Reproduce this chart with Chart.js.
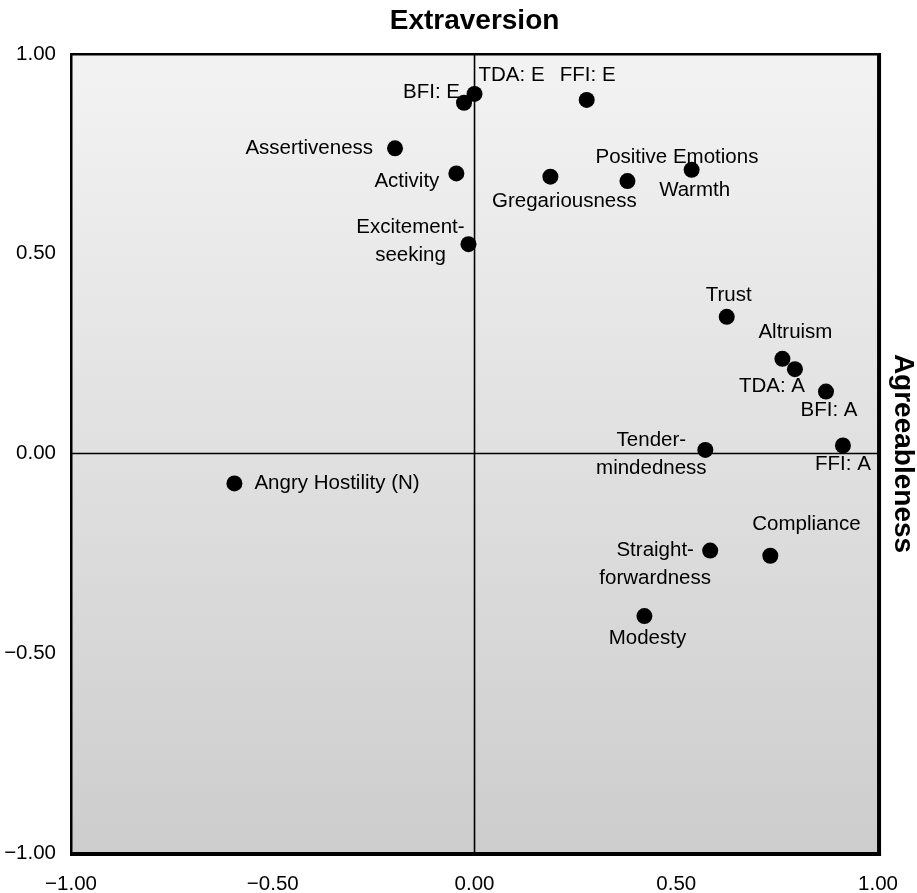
<!DOCTYPE html>
<html><head><meta charset="utf-8">
<script src="https://cdn.jsdelivr.net/npm/chart.js@4"></script>
<style>html,body{margin:0;padding:0;background:#fff}#wrap{width:917px;height:893px;position:relative}</style>
</head><body><div id="wrap"><canvas id="c" width="917" height="893"></canvas></div>
<script>
const pointNames = ["BFI: E","TDA: E","FFI: E","Assertiveness","Activity","Excitement-\nseeking","Gregariousness","Positive Emotions","Warmth","Trust","Altruism","TDA: A","BFI: A","FFI: A","Tender-\nmindedness","Angry Hostility (N)","Straight-\nforwardness","Compliance","Modesty"];
const xValues = [-0.026, 0.00, 0.278, -0.197, -0.045, -0.015, 0.188, 0.379, 0.538, 0.625, 0.763, 0.794, 0.871, 0.913, 0.572, -0.595, 0.584, 0.733, 0.421];
const yValues = [0.878, 0.90, 0.885, 0.764, 0.701, 0.524, 0.693, 0.682, 0.710, 0.342, 0.237, 0.211, 0.155, 0.020, 0.009, -0.075, -0.243, -0.256, -0.407];
const xTicks = [-1, -0.5, 0, 0.5, 1];
const yTicks = [-1, -0.5, 0, 0.5, 1];
const chartTitle = "Extraversion";
const sideTitle = "Agreeableness";

// label placement relative to each dot (pixels) – layout only
const labelPlacement = [
  {dx:-4, dy:-10, align:'right'},
  {dx:4, dy:-19, align:'left'},
  {dx:1, dy:-25, align:'center'},
  {dx:-22, dy:0, align:'right'},
  {dx:-17, dy:8, align:'right'},
  {dx:-58, dy:-17, align:'center'},
  {dx:14, dy:25, align:'center'},
  {dx:-32, dy:-24, align:'left'},
  {dx:3, dy:20, align:'center'},
  {dx:2, dy:-22, align:'center'},
  {dx:13, dy:-26, align:'center'},
  {dx:-23, dy:17, align:'center'},
  {dx:3, dy:19, align:'center'},
  {dx:0, dy:19, align:'center'},
  {dx:-54, dy:-10, align:'center'},
  {dx:20, dy:0, align:'left'},
  {dx:-55, dy:0, align:'center'},
  {dx:-18, dy:-31, align:'left'},
  {dx:3, dy:22, align:'center'}
];

const FAMILY = '"Liberation Sans", Arial, Helvetica, sans-serif';
const fmt = v => (v < 0 ? '\u2212' : '') + Math.abs(v).toFixed(2);

const bgPlugin = {
  id:'bg',
  beforeDatasetsDraw(chart){
    const {ctx, chartArea:a, scales} = chart;
    ctx.save();
    const g = ctx.createLinearGradient(0, a.top, 0, a.bottom);
    g.addColorStop(0, '#f3f3f3');
    g.addColorStop(0.45, '#e2e2e2');
    g.addColorStop(1, '#cdcdcd');
    ctx.fillStyle = g;
    ctx.fillRect(a.left, a.top, a.right - a.left, a.bottom - a.top);
    // zero lines
    ctx.strokeStyle = '#000';
    ctx.lineWidth = 1.6;
    const x0 = scales.x.getPixelForValue(0);
    const y0 = scales.y.getPixelForValue(0);
    ctx.beginPath();
    ctx.moveTo(x0, a.top); ctx.lineTo(x0, a.bottom);
    ctx.moveTo(a.left, y0); ctx.lineTo(a.right, y0);
    ctx.stroke();
    ctx.restore();
  }
};

const labelPlugin = {
  id:'labels',
  afterDatasetsDraw(chart){
    const {ctx, scales} = chart;
    ctx.save();
    ctx.fillStyle = '#000';
    ctx.font = '20.5px ' + FAMILY;
    ctx.textBaseline = 'middle';
    pointNames.forEach((name, i) => {
      const px = scales.x.getPixelForValue(xValues[i]);
      const py = scales.y.getPixelForValue(yValues[i]);
      const p = labelPlacement[i];
      ctx.textAlign = p.align;
      name.split('\n').forEach((line, k) => {
        ctx.fillText(line, px + p.dx, py + p.dy + k * 28);
      });
    });
    ctx.restore();
  },
  afterDraw(chart){
    const {ctx, chartArea:a} = chart;
    ctx.save();
    // frame
    ctx.fillStyle = '#000';
    ctx.fillRect(a.left - 1, a.top - 1, a.right - a.left + 2, 2.5);
    ctx.fillRect(a.left - 1, a.top - 1, 2.5, a.bottom - a.top + 2);
    ctx.fillRect(a.right - 1, a.top - 1, 4, a.bottom - a.top + 4);
    ctx.fillRect(a.left - 1, a.bottom - 1, a.right - a.left + 4, 4);
    // titles
    ctx.font = 'bold 28px ' + FAMILY;
    ctx.textAlign = 'center';
    ctx.textBaseline = 'middle';
    ctx.fillText(chartTitle, (a.left + a.right) / 2, 21);
    ctx.translate(903, (a.top + a.bottom) / 2);
    ctx.rotate(Math.PI / 2);
    ctx.fillText(sideTitle, 0, 0);
    ctx.restore();
  }
};

new Chart(document.getElementById('c'), {
  type:'scatter',
  data:{datasets:[{
    data: xValues.map((x, i) => ({x, y: yValues[i]})),
    backgroundColor:'#000', borderColor:'#000',
    pointRadius:8, pointHoverRadius:8, borderWidth:0
  }]},
  options:{
    responsive:false, animation:false, events:[],
    layout:{padding:{top:54, right:37, left:0, bottom:0}},
    plugins:{legend:{display:false}, tooltip:{enabled:false}, title:{display:false}},
    scales:{
      x:{
        type:'linear', min:-1, max:1,
        afterBuildTicks: s => { s.ticks = xTicks.map(v => ({value:v})); },
        afterFit: s => { s.height = 40; },
        grid:{display:false, drawTicks:false}, border:{display:false},
        ticks:{color:'#000', font:{family:FAMILY, size:20.5}, padding:19, maxRotation:0, autoSkip:false, callback: v => fmt(v)}
      },
      y:{
        type:'linear', min:-1, max:1,
        afterBuildTicks: s => { s.ticks = yTicks.map(v => ({value:v})); },
        afterFit: s => { s.width = 71; },
        grid:{display:false, drawTicks:false}, border:{display:false},
        ticks:{color:'#000', font:{family:FAMILY, size:20.5}, padding:15, autoSkip:false, callback: v => fmt(v)}
      }
    }
  },
  plugins:[bgPlugin, labelPlugin]
});
</script>
</body></html>
